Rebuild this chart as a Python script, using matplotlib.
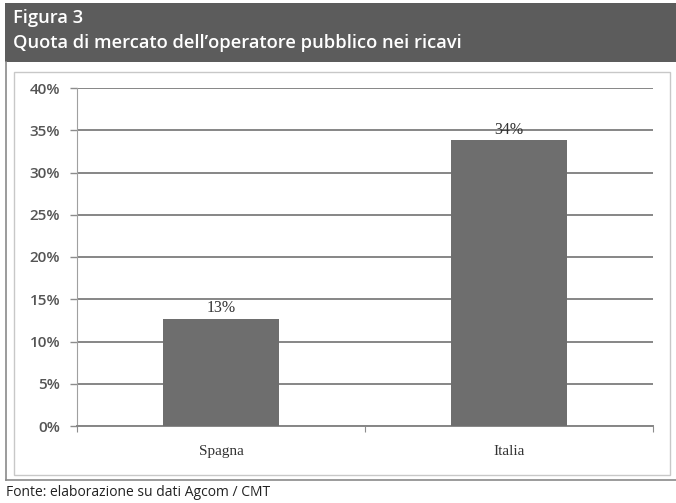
import matplotlib
matplotlib.use("Agg")
import matplotlib.pyplot as plt
from matplotlib.patches import Rectangle
from matplotlib.lines import Line2D

# Data
categories = ["Spagna", "Italia"]
shares = [0.127, 0.338]
y_ticks = [0.0, 0.05, 0.10, 0.15, 0.20, 0.25, 0.30, 0.35, 0.40]

W, H = 676, 503
fig = plt.figure(figsize=(W / 100, H / 100), dpi=100)
fig.patch.set_facecolor("white")

def fx(px):
    return px / W

def fy(py):
    return 1 - py / H

# Header band with title
fig.patches.append(Rectangle((fx(5), fy(62)), 1 - fx(5), fy(3) - fy(62),
                             transform=fig.transFigure, facecolor="#5c5c5c",
                             edgecolor="none", zorder=0))
fig.text(fx(13), fy(18), "Figura 3", color="white", fontsize=13.2,
         fontweight="semibold", family="Open Sans", va="center", ha="left")
fig.text(fx(13), fy(43), "Quota di mercato dell\u2019operatore pubblico nei ricavi",
         color="white", fontsize=13.2, fontweight="semibold", family="Open Sans",
         va="center", ha="left")

# Outer frame
frame_col = "#8a8a8a"
fig.lines.append(Line2D([fx(6), fx(6)], [fy(62), fy(480)], transform=fig.transFigure,
                        color=frame_col, lw=1.2))
fig.lines.append(Line2D([fx(6), 1], [fy(480), fy(480)], transform=fig.transFigure,
                        color=frame_col, lw=1.2))

# Inner chart box
fig.patches.append(Rectangle((fx(14), fy(475)), fx(670) - fx(14), fy(72) - fy(475),
                             transform=fig.transFigure, facecolor="none",
                             edgecolor="#c8c8c8", lw=1.0, zorder=0))

# Footer
fig.text(fx(6), fy(493), "Fonte: elaborazione su dati Agcom / CMT", color="#222222",
         fontsize=10, family="Open Sans", va="center", ha="left")

# Plot area
ax = fig.add_axes([fx(77), fy(426), fx(653) - fx(77), fy(88) - fy(426)])
ax.set_facecolor("none")
x = list(range(len(categories)))
bars = ax.bar(x, shares, width=0.4, color="#6e6e6e", zorder=3)
for xi, v in zip(x, shares):
    ax.text(xi, v + 0.003, f"{v:.0%}", ha="center", va="bottom",
            family="Liberation Serif", fontsize=11.5, color="#333333", zorder=4)

ax.set_xlim(-0.5, 1.5)
ax.set_ylim(0, 0.40)
ax.set_yticks(y_ticks)
ax.set_yticklabels([f"{t:.0%}" for t in y_ticks], family="Open Sans",
                   fontweight="semibold", fontsize=11, color="#555555")
ax.yaxis.grid(True, color="#868686", lw=1.4, zorder=1)
ax.set_axisbelow(True)

ax.set_xticks([-0.5, 0.5, 1.5], minor=False)
ax.set_xticklabels([])
ax.set_xticks(x, minor=True)
ax.set_xticklabels(categories, minor=True, family="Liberation Serif", fontsize=11,
                   color="#333333")
ax.tick_params(axis="x", which="minor", length=0, pad=14)
ax.tick_params(axis="x", which="major", length=4, color="#8c8c8c", direction="out")
ax.tick_params(axis="y", length=5, color="#8c8c8c", width=1.0, pad=7)

for s in ["top", "right"]:
    ax.spines[s].set_visible(False)
ax.spines["left"].set_color("#a0a0a0")
ax.spines["bottom"].set_color("#868686")
ax.spines["bottom"].set_linewidth(1.4)

fig.savefig("out.png", dpi=100)
